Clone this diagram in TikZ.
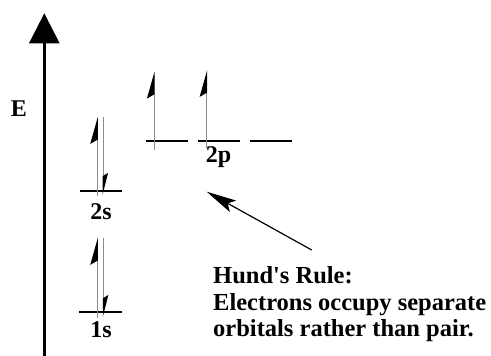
\documentclass[tikz,border=0pt]{standalone}
\usepackage{fontspec}
\setmainfont{Liberation Serif}[Ligatures=TeXOff]
\usetikzlibrary{arrows.meta}
\begin{document}
\begin{tikzpicture}[x=1pt,y=-1pt,
  level/.style={line width=1.5pt, black},
  elec/.style={line width=1pt, black!45},
  upe/.style={elec,-{Stealth[harpoon,length=25pt,width=14pt,inset=4pt,color=black]}},
  dne/.style={elec,-{Stealth[harpoon,length=20pt,width=10pt,inset=3pt,color=black]}},
  lbl/.style={font=\bfseries\fontsize{24}{28}\selectfont, inner sep=0pt, anchor=base},
  hund/.style={font=\bfseries\fontsize{24.5}{28}\selectfont, inner sep=0pt, anchor=base west}]
\useasboundingbox (0,0) rectangle (491,356);
% energy axis
\coordinate (axb) at (44.3,356);
\coordinate (axt) at (44.3,13.3);
\draw[line width=2.7pt,-{Triangle[length=30pt,width=30pt]}] (axb) -- (axt);
\node[lbl] (E) at (19,116.5) {E};
% 1s level
\coordinate (l1a) at (79,312); \coordinate (l1b) at (122,312);
\draw[level] (l1a) -- (l1b);
\coordinate (u1a) at (97.3,318); \coordinate (u1b) at (97.3,238);
\coordinate (d1a) at (103.3,238); \coordinate (d1b) at (103.3,317);
\draw[upe] (u1a) -- (u1b);
\draw[dne] (d1a) -- (d1b);
\node[lbl] (s1) at (101,337) {1s};
% 2s level
\coordinate (l2a) at (80,191); \coordinate (l2b) at (122,191);
\draw[level] (l2a) -- (l2b);
\coordinate (u2a) at (97.3,196); \coordinate (u2b) at (97.3,117);
\coordinate (d2a) at (103,117); \coordinate (d2b) at (103,195);
\draw[upe] (u2a) -- (u2b);
\draw[dne] (d2a) -- (d2b);
\node[lbl] (s2) at (101,219) {2s};
% 2p levels
\coordinate (pa1) at (146,141); \coordinate (pb1) at (188,141);
\coordinate (pa2) at (198,141); \coordinate (pb2) at (240,141);
\coordinate (pa3) at (250,141); \coordinate (pb3) at (292,141);
\draw[level] (pa1) -- (pb1);
\draw[level] (pa2) -- (pb2);
\draw[level] (pa3) -- (pb3);
\coordinate (pu1a) at (154,150); \coordinate (pu1b) at (154,71.7);
\coordinate (pu2a) at (206.7,148); \coordinate (pu2b) at (206.7,70);
\draw[upe] (pu1a) -- (pu1b);
\draw[upe] (pu2a) -- (pu2b);
\node[lbl] (p2) at (218.5,162.7) {2p};
% Hund's rule
\node[hund] (h1) at (213,283) {Hund's Rule:};
\node[hund] (h2) at (213,310) {Electrons occupy separate};
\node[hund] (h3) at (213,336.5) {orbitals rather than pair.};
\coordinate (ptail) at (311.7,250);
\coordinate (ptip) at (206.7,191.7);
\draw[line width=1.2pt,-{Stealth[length=30pt,width=13pt,inset=6pt]}] (ptail) -- (ptip);
\end{tikzpicture}
\end{document}
